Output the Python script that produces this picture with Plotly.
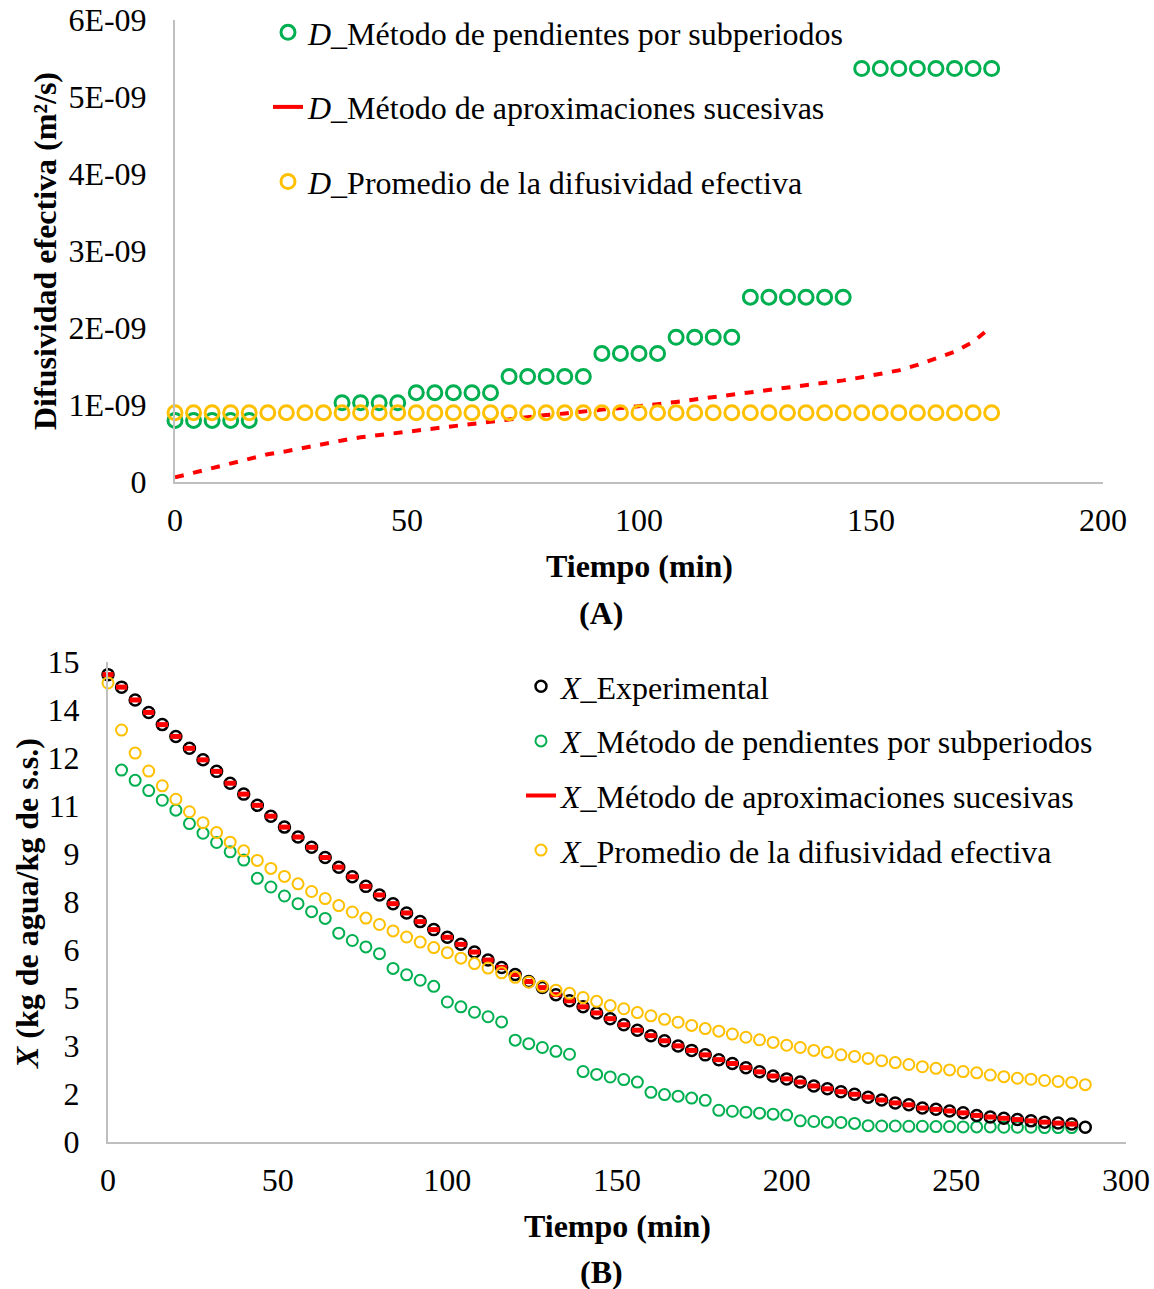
import plotly.graph_objects as go

W, H = 1154, 1289
FONT = "Liberation Serif"
FS = 32
GREEN, RED, GOLD, BLACK = "#00B050", "#FF0000", "#FFC000", "#000000"
AXIS_GRAY = "#BFBFBF"

# ---------------- Panel A: effective diffusivity vs time ----------------
t_a = list(range(0, 177, 4))          # min
UNIT = 1e-9                           # values below are in units of 1E-09 m²/s
d_pendientes = [0.80, 0.80, 0.80, 0.80, 0.80, None, None, None, None,
                1.03, 1.03, 1.03, 1.03,
                1.16, 1.16, 1.16, 1.16, 1.16,
                1.37, 1.37, 1.37, 1.37, 1.37,
                1.67, 1.67, 1.67, 1.67,
                1.88, 1.88, 1.88, 1.88,
                2.40, 2.40, 2.40, 2.40, 2.40, 2.40,
                5.37, 5.37, 5.37, 5.37, 5.37, 5.37, 5.37, 5.37]
d_aproximaciones = [0.06, 0.12, 0.19, 0.25, 0.30, 0.36, 0.40, 0.45, 0.50, 0.54,
                    0.58, 0.61, 0.64, 0.67, 0.70, 0.73, 0.76, 0.79, 0.81, 0.84,
                    0.87, 0.89, 0.92, 0.94, 0.96, 0.98, 1.01, 1.04, 1.07, 1.10,
                    1.13, 1.16, 1.19, 1.22, 1.25, 1.29, 1.32, 1.36, 1.41, 1.45,
                    1.52, 1.61, 1.69, 1.82, 2.02]
d_promedio = [0.90, 0.90, 0.90, 0.90, 0.90, 0.90, 0.90, 0.90, 0.90, 0.90,
              0.90, 0.90, 0.90, 0.90, 0.90, 0.90, 0.90, 0.90, 0.90, 0.90,
              0.90, 0.90, 0.90, 0.90, 0.90, 0.90, 0.90, 0.90, 0.90, 0.90,
              0.90, 0.90, 0.90, 0.90, 0.90, 0.90, 0.90, 0.90, 0.90, 0.90,
              0.90, 0.90, 0.90, 0.90, 0.90]
d_ticks = [0, 1, 2, 3, 4, 5, 6]
d_ticktext = ["0", "1E-09", "2E-09", "3E-09", "4E-09", "5E-09", "6E-09"]

# ---------------- Panel B: moisture content vs time ----------------
t_b = list(range(0, 289, 4))          # min
x_experimental = [14.59, 14.20, 13.80, 13.41, 13.03, 12.66, 12.29, 11.93, 11.57, 11.20,
                  10.86, 10.51, 10.17, 9.83, 9.52, 9.20, 8.88, 8.58, 8.28, 7.98,
                  7.71, 7.44, 7.15, 6.88, 6.63, 6.39, 6.17, 5.93, 5.68, 5.45,
                  5.23, 5.01, 4.82, 4.60, 4.41, 4.22, 4.03, 3.85, 3.66, 3.49,
                  3.32, 3.16, 3.00, 2.86, 2.72, 2.57, 2.45, 2.32, 2.19, 2.06,
                  1.97, 1.87, 1.75, 1.66, 1.57, 1.49, 1.40, 1.31, 1.22, 1.16,
                  1.06, 1.02, 0.97, 0.91, 0.83, 0.78, 0.74, 0.70, 0.66, 0.62,
                  0.59, 0.56, 0.46]
t_pend = list(range(4, 285, 4))
x_pendientes = [11.61, 11.29, 10.97, 10.67, 10.36, 9.94, 9.64, 9.35, 9.06, 8.80,
                8.23, 7.96, 7.68, 7.44, 7.19, 6.98, 6.52, 6.29, 6.09, 5.88,
                5.42, 5.22, 5.05, 4.86, 4.37, 4.22, 4.05, 3.91, 3.75, 3.18,
                3.07, 2.95, 2.83, 2.74, 2.20, 2.11, 2.03, 1.95, 1.87, 1.55,
                1.48, 1.43, 1.37, 1.30, 0.99, 0.96, 0.93, 0.90, 0.87, 0.84,
                0.66, 0.64, 0.62, 0.61, 0.58, 0.51, 0.50, 0.50, 0.49, 0.49,
                0.48, 0.48, 0.47, 0.47, 0.47, 0.46, 0.46, 0.46, 0.45, 0.45,
                0.45]
t_aprox = list(range(0, 285, 4))
x_aproximaciones = [14.59, 14.20, 13.80, 13.41, 13.03, 12.66, 12.29, 11.93, 11.57, 11.20,
                    10.86, 10.51, 10.17, 9.83, 9.52, 9.20, 8.88, 8.58, 8.28, 7.98,
                    7.71, 7.44, 7.15, 6.88, 6.63, 6.39, 6.17, 5.93, 5.68, 5.45,
                    5.23, 5.01, 4.82, 4.60, 4.41, 4.22, 4.03, 3.85, 3.66, 3.49,
                    3.32, 3.16, 3.00, 2.86, 2.72, 2.57, 2.45, 2.32, 2.19, 2.06,
                    1.97, 1.87, 1.75, 1.66, 1.57, 1.49, 1.40, 1.31, 1.22, 1.16,
                    1.06, 1.02, 0.97, 0.91, 0.83, 0.78, 0.74, 0.70, 0.66, 0.62,
                    0.59, 0.56]
x_promedio = [14.33, 12.86, 12.14, 11.58, 11.12, 10.70, 10.31, 9.97, 9.66, 9.36,
              9.09, 8.79, 8.54, 8.29, 8.06, 7.82, 7.60, 7.38, 7.18, 6.99,
              6.79, 6.59, 6.40, 6.24, 6.07, 5.91, 5.74, 5.57, 5.43, 5.28,
              5.14, 4.99, 4.86, 4.74, 4.64, 4.51, 4.39, 4.26, 4.16, 4.04,
              3.94, 3.83, 3.74, 3.64, 3.54, 3.46, 3.37, 3.27, 3.19, 3.11,
              3.02, 2.95, 2.86, 2.80, 2.72, 2.67, 2.61, 2.54, 2.48, 2.42,
              2.35, 2.30, 2.25, 2.20, 2.16, 2.09, 2.04, 1.99, 1.96, 1.92,
              1.89, 1.86, 1.79]
x_ticks = [0, 1.5, 3, 4.5, 6, 7.5, 9, 10.5, 12, 13.5, 15]
x_ticktext = ["0", "2", "3", "5", "6", "8", "9", "11", "12", "14", "15"]


def px_x(v):
    return v / W


def px_y(v):
    return 1 - v / H


def scaled(values):
    return [None if v is None else v * UNIT for v in values]


fig = go.Figure()

# ---- panel A traces ----
fig.add_trace(go.Scatter(
    x=t_a, y=scaled(d_pendientes), mode="markers", xaxis="x", yaxis="y",
    name="<i>D</i>_Método de pendientes por subperiodos",
    marker=dict(symbol="circle-open", size=14, color=GREEN, line=dict(width=3, color=GREEN)),
    legend="legend", legendgroup="a1", legendrank=1, cliponaxis=False))
fig.add_trace(go.Scatter(
    x=t_a, y=scaled(d_aproximaciones), mode="lines", xaxis="x", yaxis="y",
    line=dict(color=RED, width=4, dash="9px,9.6px"),
    showlegend=False, legendgroup="a2", cliponaxis=False))
fig.add_trace(go.Scatter(
    x=[None], y=[None], mode="lines", xaxis="x", yaxis="y",
    name="<i>D</i>_Método de aproximaciones sucesivas",
    line=dict(color=RED, width=4),
    legend="legend", legendgroup="a2", legendrank=2))
fig.add_trace(go.Scatter(
    x=t_a, y=scaled(d_promedio), mode="markers", xaxis="x", yaxis="y",
    name="<i>D</i>_Promedio de la difusividad efectiva",
    marker=dict(symbol="circle-open", size=14, color=GOLD, line=dict(width=3, color=GOLD)),
    legend="legend", legendgroup="a3", legendrank=3, cliponaxis=False))

# ---- panel B traces ----
fig.add_trace(go.Scatter(
    x=t_pend, y=x_pendientes, mode="markers", xaxis="x2", yaxis="y2",
    name="<i>X</i>_Método de pendientes por subperiodos",
    marker=dict(symbol="circle-open", size=11, color=GREEN, line=dict(width=2, color=GREEN)),
    legend="legend2", legendgroup="b2", legendrank=2, cliponaxis=False))
fig.add_trace(go.Scatter(
    x=t_b, y=x_experimental, mode="markers", xaxis="x2", yaxis="y2",
    name="<i>X</i>_Experimental",
    marker=dict(symbol="circle-open", size=11, color=BLACK, line=dict(width=2.5, color=BLACK)),
    legend="legend2", legendgroup="b1", legendrank=1, cliponaxis=False))
fig.add_trace(go.Scatter(
    x=t_aprox, y=x_aproximaciones, mode="markers", xaxis="x2", yaxis="y2",
    marker=dict(symbol="line-ew", size=8, color=RED, line=dict(width=5, color=RED)),
    showlegend=False, legendgroup="b3", cliponaxis=False))
fig.add_trace(go.Scatter(
    x=[None], y=[None], mode="lines", xaxis="x2", yaxis="y2",
    name="<i>X</i>_Método de aproximaciones sucesivas",
    line=dict(color=RED, width=4),
    legend="legend2", legendgroup="b3", legendrank=3))
fig.add_trace(go.Scatter(
    x=t_b, y=x_promedio, mode="markers", xaxis="x2", yaxis="y2",
    name="<i>X</i>_Promedio de la difusividad efectiva",
    marker=dict(symbol="circle-open", size=11, color=GOLD, line=dict(width=2, color=GOLD)),
    legend="legend2", legendgroup="b4", legendrank=4, cliponaxis=False))

tickfont = dict(family=FONT, size=FS, color="#000000")
axis_common = dict(showline=True, linecolor=AXIS_GRAY, linewidth=2, showgrid=False,
                   zeroline=False, ticks="", tickfont=tickfont, fixedrange=True,
                   automargin=False)

fig.update_layout(
    width=W, height=H,
    margin=dict(l=0, r=0, t=0, b=0, autoexpand=False),
    paper_bgcolor="white", plot_bgcolor="white",
    font=dict(family=FONT, size=FS, color="#000000"),
    xaxis=dict(domain=[px_x(175), px_x(1103)], range=[0, 200], anchor="y",
               tickvals=[0, 50, 100, 150, 200], ticklabelstandoff=9, **axis_common),
    yaxis=dict(domain=[px_y(482), px_y(20)], range=[0, 6 * UNIT], anchor="x",
               tickvals=[v * UNIT for v in d_ticks], ticktext=d_ticktext,
               ticklabelstandoff=20, **axis_common),
    xaxis2=dict(domain=[px_x(108), px_x(1126)], range=[0, 300], anchor="y2",
                tickvals=[0, 50, 100, 150, 200, 250, 300], ticklabelstandoff=9, **axis_common),
    yaxis2=dict(domain=[px_y(1142), px_y(661.5)], range=[0, 15], anchor="x2",
                tickvals=x_ticks, ticktext=x_ticktext, ticklabelstandoff=20, **axis_common),
    legend=dict(x=px_x(268), y=px_y(5), xanchor="left", yanchor="top",
                bgcolor="rgba(0,0,0,0)", borderwidth=0, tracegroupgap=30,
                traceorder="grouped", font=dict(family=FONT, size=FS)),
    legend2=dict(x=px_x(521), y=px_y(659), xanchor="left", yanchor="top",
                 bgcolor="rgba(0,0,0,0)", borderwidth=0, tracegroupgap=10,
                 traceorder="grouped", font=dict(family=FONT, size=FS)),
    showlegend=True,
)

title_font = dict(family=FONT, size=FS, color="#000000")


def label(text, x, y, angle=0):
    fig.add_annotation(text=text, x=px_x(x), y=px_y(y), xref="paper", yref="paper",
                       xanchor="center", yanchor="middle", showarrow=False,
                       textangle=angle, font=title_font)


label("<b>Difusividad efectiva (m²/s)</b>", 45, 251, -90)
label("<b>Tiempo (min)</b>", 639, 566)
label("<b>(A)</b>", 601, 613)
label("<b><i>X</i> (kg de agua/kg de s.s.)</b>", 27, 904, -90)
label("<b>Tiempo (min)</b>", 617, 1226)
label("<b>(B)</b>", 601, 1272)

# pin the graph to the page's top-left corner so it fills the window exactly
pin_page = (
    "document.documentElement.style.margin='0';"
    "document.body.style.margin='0';"
    "document.body.style.overflow='hidden';"
    "var gd=document.getElementById('{plot_id}');"
    "gd.style.position='fixed';gd.style.left='0px';gd.style.top='0px';"
)

fig.write_html("out.html", post_script=pin_page)
